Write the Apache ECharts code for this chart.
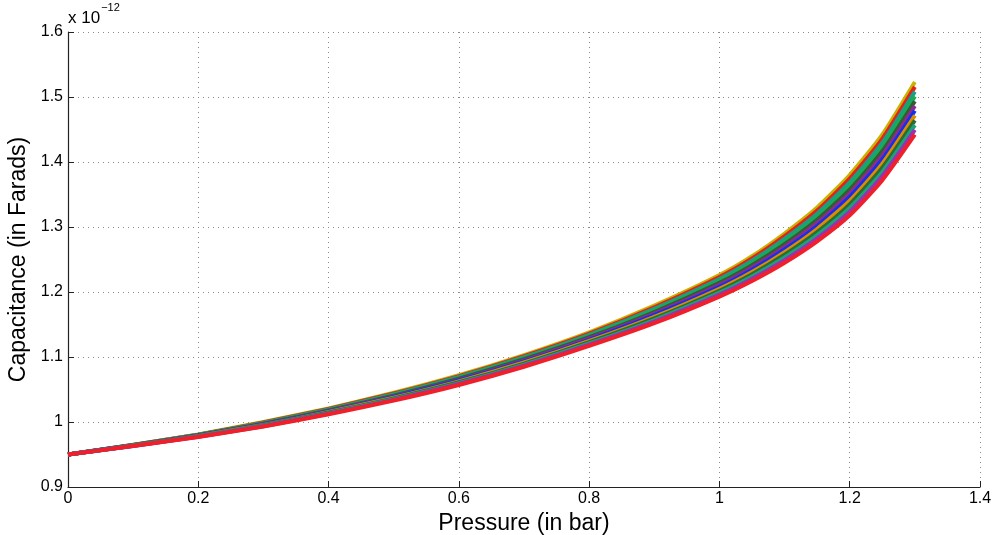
<!DOCTYPE html>
<html>
<head>
<meta charset="utf-8">
<script src="https://cdn.jsdelivr.net/npm/echarts@6/dist/echarts.min.js"></script>
<style>
html,body{margin:0;padding:0;background:#fff;}
#chart{width:994px;height:535px;}
</style>
</head>
<body>
<div id="chart"></div>
<script>
// Pressure (bar)
const pressure = [0, 0.1, 0.2, 0.3, 0.4, 0.5, 0.6, 0.7, 0.8, 0.9, 1.0, 1.05, 1.1, 1.15, 1.2, 1.25, 1.3];
// Capacitance curves (units of 1e-12 F), top of bundle to bottom
const c01 = [0.950, 0.9650, 0.9810, 1.0000, 1.0210, 1.0450, 1.0720, 1.1030, 1.1380, 1.1790, 1.2260, 1.2550, 1.2900, 1.3300, 1.3800, 1.4420, 1.5230];
const c02 = [0.950, 0.9648, 0.9806, 0.9994, 1.0202, 1.0439, 1.0706, 1.1014, 1.1361, 1.1765, 1.2230, 1.2515, 1.2859, 1.3253, 1.3744, 1.4356, 1.5156];
const c03 = [0.950, 0.9646, 0.9803, 0.9987, 1.0194, 1.0428, 1.0693, 1.0997, 1.1342, 1.1741, 1.2200, 1.2481, 1.2818, 1.3205, 1.3687, 1.4293, 1.5083];
const c04 = [0.950, 0.9645, 0.9799, 0.9981, 1.0185, 1.0417, 1.0679, 1.0981, 1.1323, 1.1716, 1.2170, 1.2446, 1.2777, 1.3158, 1.3631, 1.4229, 1.5009];
const c05 = [0.950, 0.9643, 0.9795, 0.9975, 1.0177, 1.0406, 1.0665, 1.0965, 1.1304, 1.1692, 1.2140, 1.2412, 1.2736, 1.3111, 1.3575, 1.4165, 1.4935];
const c06 = [0.950, 0.9641, 0.9792, 0.9968, 1.0169, 1.0395, 1.0652, 1.0948, 1.1285, 1.1667, 1.2110, 1.2377, 1.2695, 1.3064, 1.3518, 1.4102, 1.4862];
const c07 = [0.950, 0.9639, 0.9788, 0.9962, 1.0161, 1.0385, 1.0638, 1.0932, 1.1265, 1.1643, 1.2080, 1.2343, 1.2655, 1.3016, 1.3462, 1.4038, 1.4788];
const c08 = [0.950, 0.9637, 0.9785, 0.9955, 1.0153, 1.0374, 1.0625, 1.0915, 1.1246, 1.1618, 1.2050, 1.2308, 1.2614, 1.2969, 1.3405, 1.3975, 1.4715];
const c09 = [0.950, 0.9635, 0.9781, 0.9949, 1.0145, 1.0363, 1.0611, 1.0899, 1.1227, 1.1594, 1.2020, 1.2274, 1.2573, 1.2922, 1.3349, 1.3911, 1.4641];
const c10 = [0.950, 0.9634, 0.9777, 0.9943, 1.0136, 1.0352, 1.0597, 1.0883, 1.1208, 1.1569, 1.1990, 1.2239, 1.2532, 1.2875, 1.3293, 1.3847, 1.4567];
const c11 = [0.950, 0.9632, 0.9774, 0.9936, 1.0128, 1.0341, 1.0584, 1.0866, 1.1189, 1.1545, 1.1960, 1.2205, 1.2491, 1.2827, 1.3236, 1.3784, 1.4494];
const c12 = [0.950, 0.9630, 0.9770, 0.9930, 1.0120, 1.0330, 1.0570, 1.0850, 1.1170, 1.1520, 1.1930, 1.2170, 1.2450, 1.2780, 1.3180, 1.3720, 1.4420];
const curves = [c01, c02, c03, c04, c05, c06, c07, c08, c09, c10, c11, c12];
const colors = ['#C8B400', '#E8201A', '#16A085', '#1BAA5A', '#2F5F2F', '#8E2A8E',
                '#1030F0', '#E08A00', '#2E6B2E', '#1AA37A', '#9B30B0', '#F0202A'];

const chart = echarts.init(document.getElementById('chart'), null, {renderer: 'canvas'});
const FONT = 'Liberation Sans, Arial, Helvetica, sans-serif';

const series = curves.map((c, i) => ({
  type: 'line',
  data: pressure.map((p, j) => [p, c[j]]),
  showSymbol: false,
  smooth: 0.2,
  lineStyle: {color: colors[i], width: 4, join: 'round'},
  itemStyle: {color: colors[i]},
  animation: false,
  z: 2
}));

chart.setOption({
  backgroundColor: '#fff',
  animation: false,
  grid: {left: 68, right: 14, top: 32, bottom: 48, containLabel: false, outerBoundsMode: 'none'},
  xAxis: {
    type: 'value', min: 0, max: 1.4, interval: 0.2,
    name: 'Pressure (in bar)', nameLocation: 'middle', nameGap: 22,
    nameTextStyle: {fontFamily: FONT, fontSize: 23, color: '#000'},
    axisLine: {show: true, onZero: false, lineStyle: {color: '#222', width: 1.2}},
    axisTick: {show: true, inside: true, length: 6, lineStyle: {color: '#222'}},
    axisLabel: {fontFamily: FONT, fontSize: 16, color: '#000', margin: 4,
      formatter: v => String(+v.toFixed(1))},
    splitLine: {show: true, lineStyle: {color: '#8a8a8a', type: [1, 4], width: 1}}
  },
  yAxis: {
    type: 'value', min: 0.9, max: 1.6, interval: 0.1,
    name: 'Capacitance (in Farads)', nameLocation: 'middle', nameGap: 37,
    nameTextStyle: {fontFamily: FONT, fontSize: 23, color: '#000'},
    axisLine: {show: true, onZero: false, lineStyle: {color: '#222', width: 1.2}},
    axisTick: {show: true, inside: true, length: 6, lineStyle: {color: '#222'}},
    axisLabel: {fontFamily: FONT, fontSize: 16, color: '#000', margin: 5,
      formatter: v => String(+v.toFixed(1))},
    splitLine: {show: true, lineStyle: {color: '#8a8a8a', type: [1, 4], width: 1}}
  },
  graphic: [{
    type: 'text', left: 68, top: 2,
    style: {
      text: '{a|x 10}{b|\u221212}',
      rich: {
        a: {fontFamily: FONT, fontSize: 17, fill: '#000', verticalAlign: 'bottom', padding: [8, 0, 0, 0]},
        b: {fontFamily: FONT, fontSize: 11, fill: '#000', verticalAlign: 'top', padding: [0, 0, 12, 1]}
      }
    }
  }],
  series: series
});
</script>
</body>
</html>
